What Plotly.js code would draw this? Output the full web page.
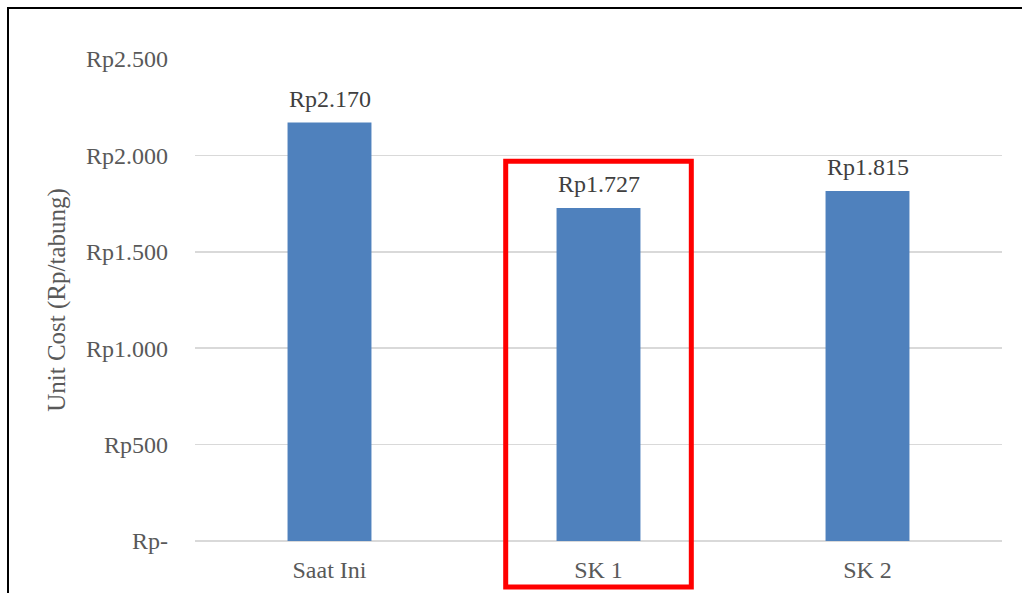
<!DOCTYPE html>
<html>
<head>
<meta charset="utf-8">
<script src="https://cdn.plot.ly/plotly-3.0.1.min.js"></script>
<style>
html,body{margin:0;padding:0;background:#fff;overflow:hidden;}
#wrap{position:relative;width:1022px;height:593px;}
#chart{width:1022px;height:593px;}
#frame{position:absolute;left:7px;top:7px;width:2000px;height:2000px;border:2px solid #000;pointer-events:none;}
</style>
</head>
<body>
<div id="wrap">
<div id="chart"></div>
<div id="frame"></div>
</div>
<script>
const categories = ["Saat Ini", "SK 1", "SK 2"];
const unitCost = [2170, 1727, 1815];
const barLabels = ["Rp2.170", "Rp1.727", "Rp1.815"];
const tickValues = [0, 500, 1000, 1500, 2000, 2500];
const tickLabels = ["Rp-", "Rp500", "Rp1.000", "Rp1.500", "Rp2.000", "Rp2.500"];
const highlightIndex = 1;

const serif = "'Liberation Serif', 'Times New Roman', Times, serif";

const trace = {
  type: "bar",
  x: categories,
  y: unitCost,
  marker: {color: "#4f81bd"},
  width: 0.312,
  hoverinfo: "none"
};

const labelAnnotations = categories.map((c, i) => ({
  x: c, y: unitCost[i], xref: "x", yref: "y",
  text: barLabels[i],
  showarrow: false,
  yanchor: "middle",
  yshift: 24,
  font: {family: serif, size: 24, color: "#404040"}
}));

const layout = {
  width: 1022,
  height: 593,
  margin: {l: 195, r: 20, t: 59, b: 52},
  paper_bgcolor: "#fff",
  plot_bgcolor: "#fff",
  showlegend: false,
  font: {family: serif, color: "#595959", size: 24},
  xaxis: {
    type: "category",
    range: [-0.5, 2.5],
    showgrid: false,
    zeroline: false,
    showline: false,
    ticks: "",
    ticklabelstandoff: 12,
    tickfont: {family: serif, size: 24, color: "#595959"}
  },
  yaxis: {
    range: [0, 2500],
    tickvals: tickValues,
    ticktext: tickLabels,
    showgrid: true,
    gridcolor: "#d9d9d9",
    gridwidth: 1.5,
    zeroline: true,
    zerolinecolor: "#d9d9d9",
    zerolinewidth: 1.5,
    showline: false,
    ticks: "",
    ticklabelstandoff: 26,
    tickfont: {family: serif, size: 24, color: "#595959"},
    title: {text: "Unit Cost (Rp/tabung)", font: {family: serif, size: 25, color: "#595959"}, standoff: 13}
  },
  annotations: labelAnnotations,
  shapes: [{
    type: "rect",
    xref: "x", yref: "paper",
    x0: highlightIndex - 0.345, x1: highlightIndex + 0.345,
    y0: -0.0955, y1: 0.788,
    line: {color: "#ff0000", width: 5},
    fillcolor: "rgba(0,0,0,0)",
    layer: "above"
  }]
};

Plotly.newPlot("chart", [trace], layout, {displayModeBar: false, staticPlot: true});
</script>
</body>
</html>
